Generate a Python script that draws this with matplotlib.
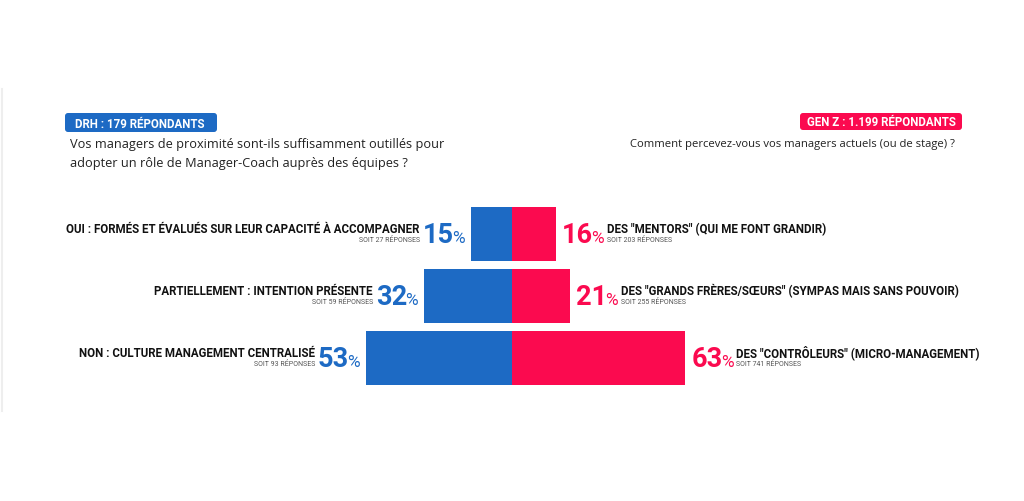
import matplotlib
matplotlib.use("Agg")
import matplotlib.pyplot as plt
from matplotlib.patches import FancyBboxPatch

# data
drh_labels = ["OUI : FORMÉS ET ÉVALUÉS SUR LEUR CAPACITÉ À ACCOMPAGNER",
              "PARTIELLEMENT : INTENTION PRÉSENTE",
              "NON : CULTURE MANAGEMENT CENTRALISÉ"]
drh_pct = [15, 32, 53]
drh_counts = [27, 59, 93]
genz_labels = ['DES "MENTORS" (QUI ME FONT GRANDIR)',
               'DES "GRANDS FRÈRES/SŒURS" (SYMPAS MAIS SANS POUVOIR)',
               'DES "CONTRÔLEURS" (MICRO-MANAGEMENT)']
genz_pct = [16, 21, 63]
genz_counts = [203, 255, 741]
drh_title = "DRH : 179 RÉPONDANTS"
genz_title = "GEN Z : 1.199 RÉPONDANTS"
drh_question = ["Vos managers de proximité sont-ils suffisamment outillés pour",
                "adopter un rôle de Manager-Coach auprès des équipes ?"]
genz_question = "Comment percevez-vous vos managers actuels (ou de stage) ?"

BLUE = "#1d6ac4"
RED = "#fb0a4f"
W, H = 1024, 502
PX = 2.75      # pixels per percent
ROW = 62       # pixels between rows
Y0 = 235       # pixel y of first row
P = 0.72       # points per pixel

plt.rcParams["font.family"] = ["Roboto", "DejaVu Sans"]

fig = plt.figure(figsize=(W / 100, H / 100), dpi=100)
fig.patch.set_facecolor("white")

# bars
ax = fig.add_axes([0, 0, 1, 1])
ax.set_xlim(-W / 2 / PX, W / 2 / PX)
ax.set_ylim((H - Y0) / ROW, -Y0 / ROW)
ax.axis("off")
rows = list(range(len(drh_pct)))
ax.barh(rows, [-v for v in drh_pct], height=54 / ROW, color=BLUE)
ax.barh(rows, genz_pct, height=54 / ROW, color=RED)

NUM_FS, PCT_FS, LAB_FS, SUB_FS = 19.5, 12.5, 8.3, 5.0

for i in rows:
    # left side (DRH)
    pct = ax.annotate("%", xy=(-drh_pct[i], i), xytext=(-6 * P, -8 * P),
                      textcoords="offset points", ha="right", va="baseline",
                      fontsize=PCT_FS, color=BLUE)
    num = ax.annotate(str(drh_pct[i]), xy=(0, i), xycoords=(pct, "data"),
                      xytext=(1.2, -8 * P), textcoords="offset points",
                      ha="right", va="baseline", fontsize=NUM_FS,
                      fontweight="bold", color=BLUE)
    lab = ax.annotate(drh_labels[i], xy=(0, i), xycoords=(num, "data"),
                      xytext=(-3 * P, 2 * P), textcoords="offset points",
                      ha="right", va="baseline", fontsize=LAB_FS,
                      fontweight="bold", color="#111111")
    ax.annotate(f"SOIT {drh_counts[i]} RÉPONSES", xy=(1, i), xycoords=(lab, "data"),
                xytext=(0, -7.5 * P), textcoords="offset points",
                ha="right", va="baseline", fontsize=SUB_FS, color="#555555")

    # right side (GEN Z)
    num = ax.annotate(str(genz_pct[i]), xy=(genz_pct[i], i), xytext=(6 * P, -8 * P),
                      textcoords="offset points", ha="left", va="baseline",
                      fontsize=NUM_FS, fontweight="bold", color=RED)
    pct = ax.annotate("%", xy=(1, i), xycoords=(num, "data"),
                      xytext=(-1.2, -8 * P), textcoords="offset points",
                      ha="left", va="baseline", fontsize=PCT_FS, color=RED)
    lab = ax.annotate(genz_labels[i], xy=(1, i), xycoords=(pct, "data"),
                      xytext=(3 * P, 2 * P), textcoords="offset points",
                      ha="left", va="baseline", fontsize=LAB_FS,
                      fontweight="bold", color="#111111")
    ax.annotate(f"SOIT {genz_counts[i]} RÉPONSES", xy=(0, i), xycoords=(lab, "data"),
                xytext=(0, -7.5 * P), textcoords="offset points",
                ha="left", va="baseline", fontsize=SUB_FS, color="#555555")

# headers, in pixel coordinates
hx = fig.add_axes([0, 0, 1, 1])
hx.set_xlim(0, W)
hx.set_ylim(H, 0)
hx.axis("off")
hx.plot([2, 2], [90, 412], color="#eeeeee", lw=1.5)

hx.add_patch(FancyBboxPatch((65, 114), 152, 19, boxstyle="round,pad=0,rounding_size=3",
                            fc=BLUE, ec="none"))
hx.text(140, 124, drh_title, ha="center", va="center", fontsize=8.3,
        fontweight="bold", color="white")
hx.add_patch(FancyBboxPatch((800, 114), 162, 17, boxstyle="round,pad=0,rounding_size=3",
                            fc=RED, ec="none"))
hx.text(881, 123, genz_title, ha="center", va="center", fontsize=8.3,
        fontweight="bold", color="white")

for k, line in enumerate(drh_question):
    hx.text(70, 148 + 19 * k, line, ha="left", va="baseline", fontsize=9.2,
            family="Open Sans", color="#222222")
hx.text(955, 147, genz_question, ha="right", va="baseline", fontsize=8.1,
        family="Open Sans", color="#222222")

fig.savefig("out.png", dpi=100, facecolor="white")
